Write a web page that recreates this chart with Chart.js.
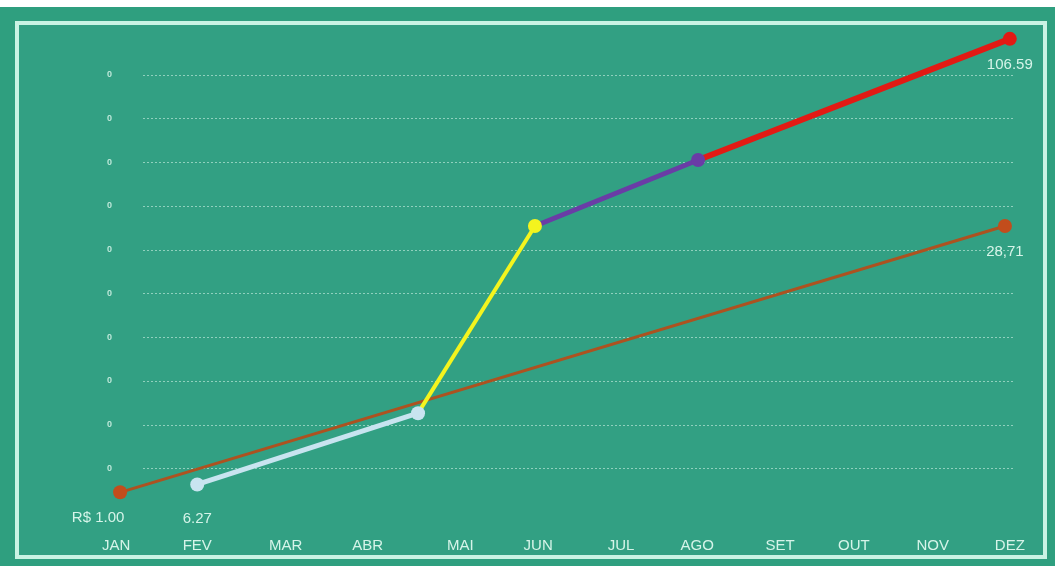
<!DOCTYPE html>
<html>
<head>
<meta charset="utf-8">
<script src="https://cdn.jsdelivr.net/npm/chart.js@4/dist/chart.umd.min.js"></script>
<style>
  html,body{margin:0;padding:0;background:#2f9f7f;width:1055px;height:566px;overflow:hidden;}
  #topstrip{position:absolute;left:0;top:0;width:1055px;height:7px;background:#ffffff;}
  #frame{position:absolute;left:15px;top:21px;width:1024px;height:530px;border:4px solid #c9f3e4;background:#32a083;}
  #c{position:absolute;left:0;top:0;}
</style>
</head>
<body>
<div id="topstrip"></div>
<div id="frame"></div>
<canvas id="c" width="1055" height="566"></canvas>
<script>
// ---- data ----
const months = ['JAN','FEV','MAR','ABR','MAI','JUN','JUL','AGO','SET','OUT','NOV','DEZ'];
// month positions on the time axis (slightly uneven in the original)
const monthPos = [0, 1.0, 2.09, 3.1, 4.24, 5.2, 6.22, 7.16, 8.18, 9.09, 10.06, 11.01];
const yTickValues = [1,2,3,4,5,6,7,8,9,10];
const yTickLabels = ['0','0','0','0','0','0','0','0','0','0'];

// brown reference line (x = time position, y = chart units)
const baseX = [0.05, 10.95];
const baseY = [0.45, 6.54];
const baseLabels = ['R$ 1.00', '28,71'];

// multicoloured growth line
const growthX = [1.0, 3.72, 5.16, 7.17, 11.01];
const growthY = [0.63, 2.26, 6.54, 8.05, 10.82];
const growthLabels = ['6.27', null, null, null, '106.59'];

// ---- styles ----
const segColors = ['#c8e4f0', '#f4f41e', '#6a3ca6', '#e21a14'];
const segWidths = [5, 4, 5, 6];
const pointColors = ['#c8e4f0', '#c8e4f0', '#f4f41e', '#6a3ca6', '#e21a14'];
const textColor = '#d6f4e9';

const labelPlugin = {
  id: 'valueLabels',
  afterDatasetsDraw(chart) {
    const ctx = chart.ctx;
    ctx.save();
    ctx.font = '15px "Liberation Sans", Arial, sans-serif';
    ctx.fillStyle = textColor;
    ctx.textBaseline = 'middle';
    chart.data.datasets.forEach((ds, di) => {
      const meta = chart.getDatasetMeta(di);
      (ds.valueLabels || []).forEach((lab, i) => {
        if (!lab) return;
        const p = meta.data[i];
        let x = p.x, dy = 26;
        ctx.textAlign = 'center';
        if (lab === 'R$ 1.00') { x = p.x - 22; }
        if (lab === '6.27') { dy = 34; }
        ctx.fillText(lab, x, p.y + dy);
      });
    });
    ctx.restore();
  }
};

const gridPlugin = {
  id: 'dottedGrid',
  beforeDatasetsDraw(chart) {
    const ctx = chart.ctx, area = chart.chartArea, ys = chart.scales.y;
    ctx.save();
    ctx.strokeStyle = 'rgba(205,240,228,0.6)';
    ctx.lineWidth = 1;
    ctx.setLineDash([2, 2]);
    yTickValues.forEach(v => {
      const y = Math.round(ys.getPixelForValue(v)) + 0.5;
      ctx.beginPath();
      ctx.moveTo(area.left + 31, y);
      ctx.lineTo(area.right, y);
      ctx.stroke();
    });
    ctx.restore();
  }
};

new Chart(document.getElementById('c'), {
  type: 'line',
  data: {
    datasets: [
      {
        data: growthX.map((x, i) => ({x, y: growthY[i]})),
        valueLabels: growthLabels,
        borderColor: segColors[0],
        borderWidth: 5,
        segment: {
          borderColor: c => segColors[c.p0DataIndex],
          borderWidth: c => segWidths[c.p0DataIndex]
        },
        pointBackgroundColor: pointColors,
        pointBorderColor: pointColors,
        pointRadius: 7,
        pointBorderWidth: 0,
        tension: 0,
        clip: false,
        order: 0
      },
      {
        data: baseX.map((x, i) => ({x, y: baseY[i]})),
        valueLabels: baseLabels,
        borderColor: '#ad5220',
        borderWidth: 3,
        pointBackgroundColor: '#c24d1c',
        pointBorderColor: '#c24d1c',
        pointRadius: 7,
        pointBorderWidth: 0,
        tension: 0,
        clip: false,
        order: 1
      }
    ]
  },
  options: {
    responsive: false,
    animation: false,
    events: [],
    layout: {padding: {left: 0, right: 40, top: 31, bottom: 0}},
    plugins: {legend: {display: false}, tooltip: {enabled: false}},
    scales: {
      x: {
        type: 'linear',
        min: -0.05,
        max: 11.074,
        afterBuildTicks: s => { s.ticks = monthPos.map(v => ({value: v})); },
        afterFit: s => { s.height = 54; },
        border: {display: false},
        grid: {display: false, drawTicks: false},
        ticks: {
          autoSkip: false,
          maxRotation: 0,
          padding: 25,
          color: textColor,
          font: {family: '"Liberation Sans", Arial, sans-serif', size: 15},
          callback: v => months[monthPos.indexOf(v)]
        }
      },
      y: {
        type: 'linear',
        min: 0,
        max: 11,
        afterBuildTicks: s => { s.ticks = yTickValues.map(v => ({value: v})); },
        afterFit: s => { s.width = 112; },
        border: {display: false},
        grid: {display: false, drawTicks: false},
        ticks: {
          padding: 0,
          color: 'rgba(214,244,233,0.85)',
          font: {family: '"Liberation Sans", Arial, sans-serif', size: 9, weight: 'bold'},
          callback: (v) => yTickLabels[yTickValues.indexOf(v)]
        }
      }
    }
  },
  plugins: [gridPlugin, labelPlugin]
});
</script>
</body>
</html>
